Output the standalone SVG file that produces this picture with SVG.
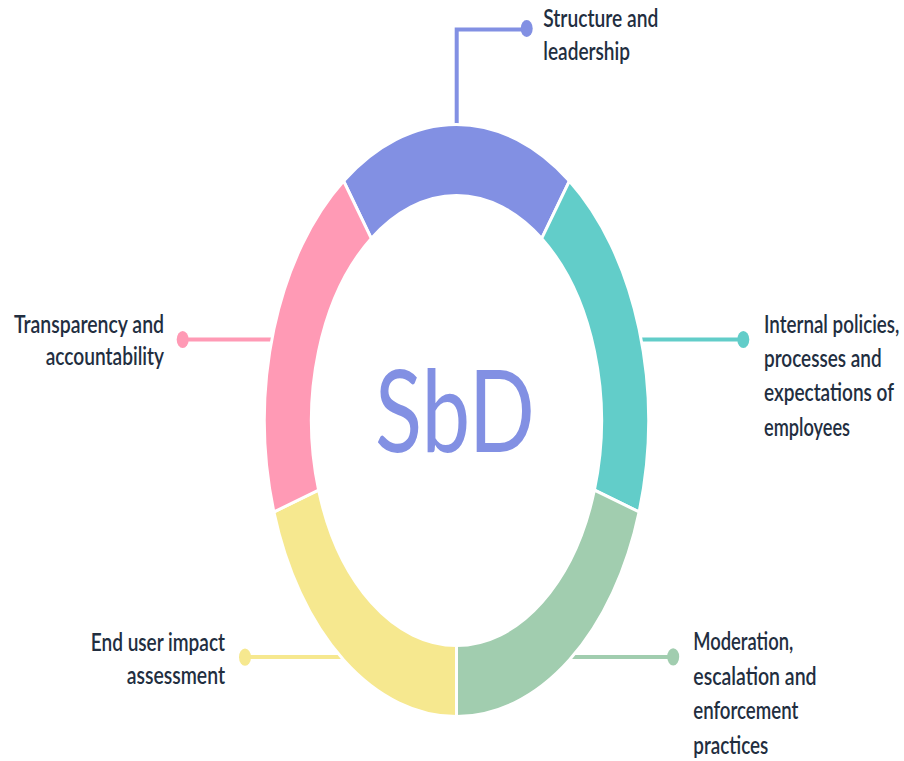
<svg xmlns="http://www.w3.org/2000/svg" width="904" height="761" viewBox="0 0 904 761">
<style>
.lbl{font-family:Lato,"Liberation Sans",sans-serif;font-weight:600;font-size:25px;fill:#222e3f}
.seg{stroke:#ffffff;stroke-width:3;stroke-linejoin:miter}
.con{fill:none;stroke-width:4}
</style>
<rect width="904" height="761" fill="#ffffff"/>
<g id="connectors">
<path class="con" d="M456.7 135 V29.5 H526" stroke="#8290e3" stroke-width="3.2"/>
<ellipse cx="526.7" cy="28.6" rx="6" ry="8.5" fill="#8290e3"/>
<line class="con" x1="183" y1="339.5" x2="285" y2="339.5" stroke="#ff9ab5"/>
<ellipse cx="182.7" cy="339.5" rx="6" ry="8.6" fill="#ff9ab5"/>
<line class="con" x1="630" y1="339.5" x2="743" y2="339.5" stroke="#62cdc9"/>
<ellipse cx="743.3" cy="339.5" rx="6" ry="8.6" fill="#62cdc9"/>
<line class="con" x1="245" y1="657" x2="355" y2="657" stroke="#f6e88f"/>
<ellipse cx="245" cy="657.2" rx="6" ry="8.6" fill="#f6e88f"/>
<line class="con" x1="555" y1="657" x2="673" y2="657" stroke="#a1cdaf"/>
<ellipse cx="673.2" cy="656.8" rx="6" ry="8.6" fill="#a1cdaf"/>
</g>
<g id="ring">
<path id="seg-structure" class="seg" fill="#8290e3" d="M343.64 181.04 A192 296 0 0 1 569.36 181.04 L541.73 238.47 A145 225 0 0 0 371.27 238.47 Z"/>
<path id="seg-internal" class="seg" fill="#62cdc9" d="M569.36 181.04 A192 296 0 0 1 639.11 511.96 L594.41 490.03 A145 225 0 0 0 541.73 238.47 Z"/>
<path id="seg-moderation" class="seg" fill="#a1cdaf" d="M639.11 511.96 A192 296 0 0 1 456.5 716.5 L456.5 645.5 A145 225 0 0 0 594.41 490.03 Z"/>
<path id="seg-enduser" class="seg" fill="#f6e88f" d="M456.5 716.5 A192 296 0 0 1 273.89 511.96 L318.59 490.03 A145 225 0 0 0 456.5 645.5 Z"/>
<path id="seg-transparency" class="seg" fill="#ff9ab5" d="M273.89 511.96 A192 296 0 0 1 343.64 181.04 L371.27 238.47 A145 225 0 0 0 318.59 490.03 Z"/>
</g>
<g id="center">
<text x="375" y="451.7" textLength="160" lengthAdjust="spacingAndGlyphs" font-family="Lato,'Liberation Sans',sans-serif" font-size="114" fill="#8290e3">SbD</text>
</g>
<g id="node-structure" transform="translate(543.3,0) scale(0.75,1)">
<text class="lbl" x="0" y="27.3" textLength="153.3" lengthAdjust="spacingAndGlyphs">Structure and</text>
<text class="lbl" x="0" y="60" textLength="115.6" lengthAdjust="spacingAndGlyphs">leadership</text>
</g>
<g id="node-transparency" transform="translate(164,0) scale(0.75,1)">
<text class="lbl" x="0" y="333.3" text-anchor="end" textLength="200" lengthAdjust="spacingAndGlyphs">Transparency and</text>
<text class="lbl" x="0" y="365.5" text-anchor="end" textLength="157.7" lengthAdjust="spacingAndGlyphs">accountability</text>
</g>
<g id="node-internal" transform="translate(764,0) scale(0.75,1)">
<text class="lbl" x="0" y="333.3" textLength="180.4" lengthAdjust="spacingAndGlyphs">Internal policies,</text>
<text class="lbl" x="0" y="367" textLength="156.9" lengthAdjust="spacingAndGlyphs">processes and</text>
<text class="lbl" x="0" y="401.5" textLength="173.3" lengthAdjust="spacingAndGlyphs">expectations of</text>
<text class="lbl" x="0" y="436" textLength="114.7" lengthAdjust="spacingAndGlyphs">employees</text>
</g>
<g id="node-enduser" transform="translate(225,0) scale(0.75,1)">
<text class="lbl" x="0" y="650.7" text-anchor="end" textLength="179" lengthAdjust="spacingAndGlyphs">End user impact</text>
<text class="lbl" x="0" y="684" text-anchor="end" textLength="131" lengthAdjust="spacingAndGlyphs">assessment</text>
</g>
<g id="node-moderation" transform="translate(693.3,0) scale(0.75,1)">
<text class="lbl" x="0" y="650" textLength="133.3" lengthAdjust="spacingAndGlyphs">Moderation,</text>
<text class="lbl" x="0" y="685" textLength="164.4" lengthAdjust="spacingAndGlyphs">escalation and</text>
<text class="lbl" x="0" y="719.5" textLength="140" lengthAdjust="spacingAndGlyphs">enforcement</text>
<text class="lbl" x="0" y="754" textLength="100" lengthAdjust="spacingAndGlyphs">practices</text>
</g>
</svg>
